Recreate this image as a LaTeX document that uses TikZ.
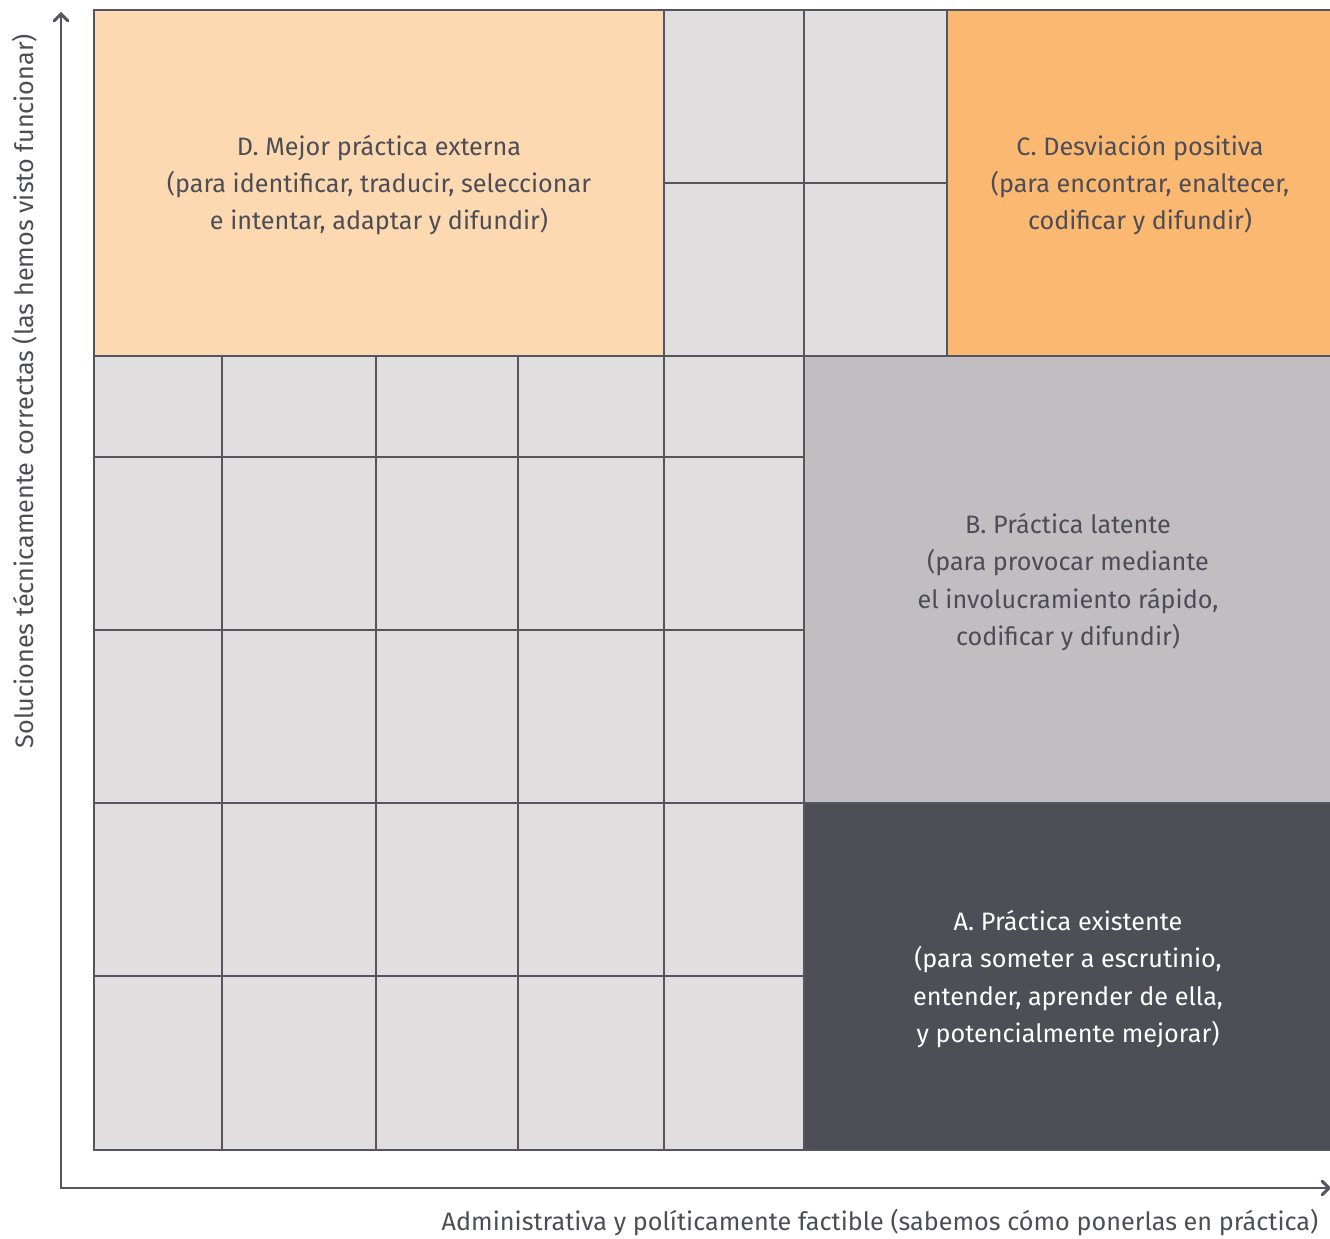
\documentclass[tikz,border=0pt]{standalone}
\usepackage{fontspec}
\setmainfont{Fira Sans}
\usepackage{tikz}
\usetikzlibrary{arrows}
\definecolor{peach}{HTML}{FCD9B0}
\definecolor{apricot}{HTML}{FBB870}
\definecolor{cellgray}{HTML}{E0DEDF}
\definecolor{midgray}{HTML}{C0BEC1}
\definecolor{slate}{HTML}{4E4E57}
\definecolor{linegray}{HTML}{55555F}
\definecolor{textgray}{HTML}{4D4D57}
\tikzset{cell/.style={fill=cellgray, draw=linegray, line width=1pt}}
\tikzset{quad/.style={align=center, font=\fontsize{18.9}{28}\selectfont, text=textgray}}
\tikzset{axis/.style={linegray, line width=2.2pt, >=angle 90}}

\begin{document}
\begin{tikzpicture}[x=0.75pt,y=-0.75pt]
\useasboundingbox (0,0) rectangle (1330,1238);
% small cells
\foreach \xa/\xb in {94/222,222/376,376/518,518/664,664/804} {
 \foreach \ya/\yb in {356/457,457/630,630/803,803/976,976/1150} {
  \draw[cell] (\xa,\ya) rectangle (\xb,\yb);
 }
}
\foreach \xa/\xb in {664/804,804/947} {
 \foreach \ya/\yb in {10/183,183/356} {
  \draw[cell] (\xa,\ya) rectangle (\xb,\yb);
 }
}
% quadrants
\draw[cell, fill=peach] (94,10) rectangle (664,356);
\draw[cell, fill=apricot] (947,10) rectangle (1334,356);
\draw[cell, fill=midgray] (804,356) rectangle (1334,803);
\draw[cell, fill=slate] (804,803) rectangle (1334,1150);
\node[quad] (d) at (379,185) {D. Mejor práctica externa\\(para identificar, traducir, seleccionar\\e intentar, adaptar y difundir)};
\node[quad] (c) at (1140,185) {C. Desviación positiva\\(para encontrar, enaltecer,\\codificar y difundir)};
\node[quad] (b) at (1068,582) {B. Práctica latente\\(para provocar mediante\\el involucramiento rápido,\\codificar y difundir)};
\node[quad, text=white] (a) at (1068,979) {A. Práctica existente\\(para someter a escrutinio,\\entender, aprender de ella,\\y potencialmente mejorar)};
% axes
\coordinate (o) at (61,1188);
\coordinate (ytop) at (61,12);
\coordinate (xend) at (1331,1188);
\draw[axis,<->] (ytop) -- (o) -- (xend);
\node[quad, anchor=east] (xlab) at (1323,1223) {Administrativa y políticamente factible (sabemos cómo ponerlas en práctica)};
\node[quad, rotate=90] (ylab) at (25,391) {Soluciones técnicamente correctas (las hemos visto funcionar)};
\end{tikzpicture}
\end{document}
